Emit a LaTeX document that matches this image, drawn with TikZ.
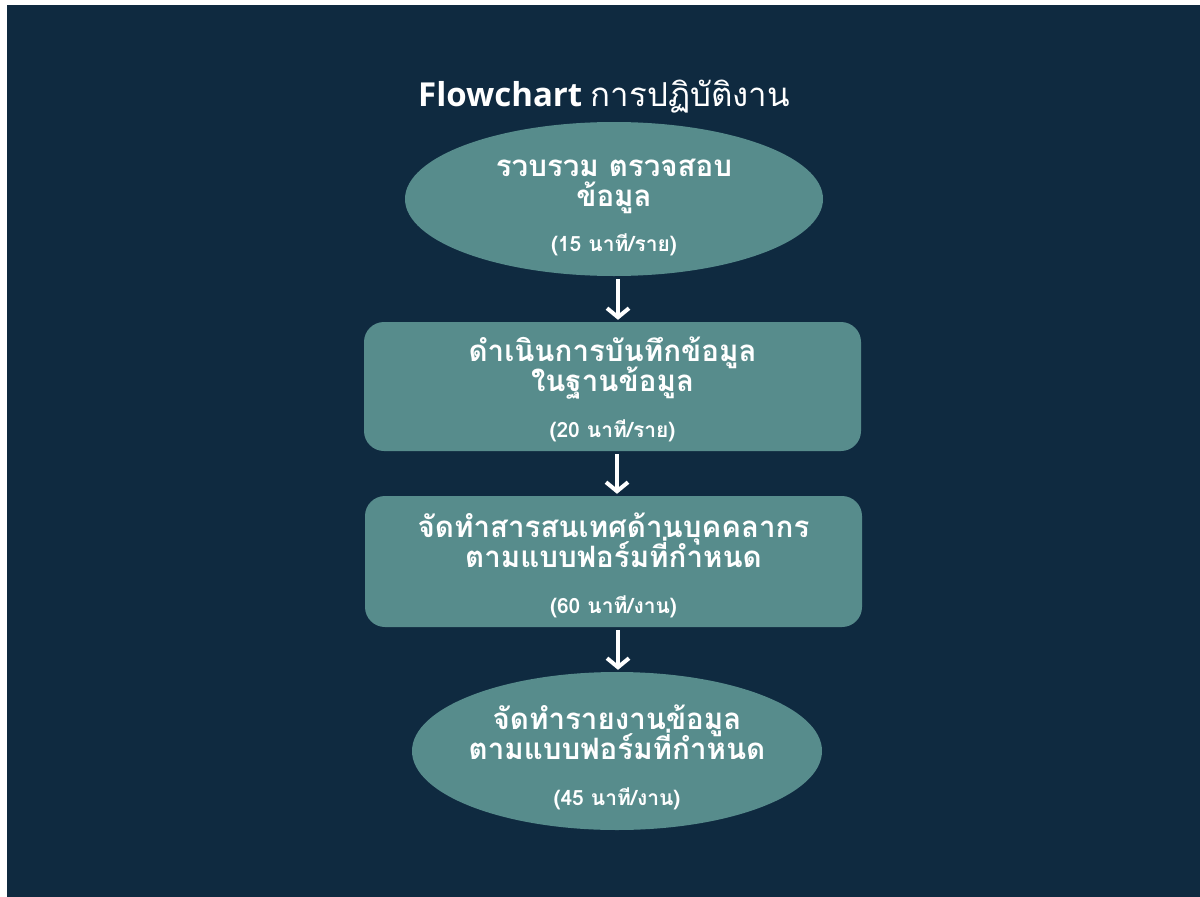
\documentclass[tikz,border=0pt]{standalone}
\usepackage{fontspec}
\setmainfont{Open Sans}
\newfontfamily\thai[Script=Thai]{Loma}
\usetikzlibrary{shapes.geometric,arrows.meta}
\definecolor{bg}{HTML}{0F2A40}
\definecolor{tealbox}{HTML}{578C8C}
\newcommand{\tm}[2]{{\fontsize{21}{24}\selectfont\bfseries(#1 {\thai\bfseries #2})}}
\newcommand{\tightlines}{\setlength{\lineskiplimit}{-100pt}\setlength{\lineskip}{0pt}}
\begin{document}
\begin{tikzpicture}[x=1pt,y=-1pt,
  shapebase/.style={fill=tealbox,draw=none,inner sep=0pt},
  ovalbox/.style={shapebase,ellipse},
  procbox/.style={shapebase,rectangle,rounded corners=20pt},
  lbl/.style={text=white,align=center,inner sep=0pt,
    font=\thai\bfseries\fontsize{29.5}{30}\selectfont\tightlines},
  arr/.style={draw=white,line width=4pt,-{Straight Barb[length=9pt,width=22pt]},shorten <=3pt,shorten >=2pt}]
\useasboundingbox (0,0) rectangle (1200,897);
\fill[white] (0,0) rectangle (1200,897);
\fill[bg] (7,5) rectangle (1200,897);
\node[text=white] (title) at (604,97) {\fontsize{33}{36}\selectfont\bfseries Flowchart \thai\mdseries การปฏิบัติงาน};
\node[ovalbox,minimum width=418pt,minimum height=154pt] (e1) at (614,199) {};
\node[procbox,minimum width=497pt,minimum height=129pt] (r2) at (612.5,386.5) {};
\node[procbox,minimum width=497pt,minimum height=131pt] (r3) at (613.5,561.5) {};
\node[ovalbox,minimum width=410pt,minimum height=158pt] (e4) at (617,751) {};
\node[lbl] (t1) at ([yshift=-8.5pt]e1.center)
  {รวบรวม ตรวจสอบ\\ข้อมูล\\[15pt]\tm{15}{นาที/ราย}};
\node[lbl] (t2) at ([yshift=-2.5pt]r2.center)
  {ดำเนินการบันทึกข้อมูล\\ในฐานข้อมูล\\[16pt]\tm{20}{นาที/ราย}};
\node[lbl] (t3) at ([yshift=-4pt]r3.center)
  {จัดทำสารสนเทศด้านบุคคลากร\\ตามแบบฟอร์มที่กำหนด\\[16pt]\tm{60}{นาที/งาน}};
\node[lbl] (t4) at ([yshift=-6.5pt]e4.center)
  {จัดทำรายงานข้อมูล\\ตามแบบฟอร์มที่กำหนด\\[16pt]\tm{45}{นาที/งาน}};
\draw[arr] ([xshift=4pt]e1.south) -- ([xshift=5.5pt]r2.north);
\draw[arr] ([xshift=4.5pt]r2.south) -- ([xshift=3.5pt]r3.north);
\draw[arr] ([xshift=4.5pt]r3.south) -- ([xshift=1pt]e4.north);
\end{tikzpicture}
\end{document}
